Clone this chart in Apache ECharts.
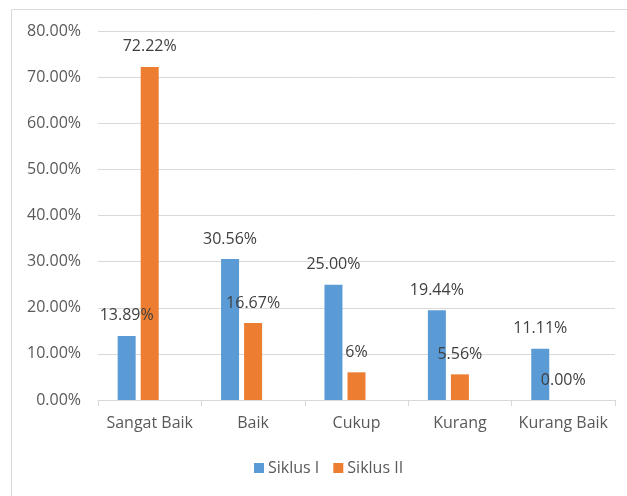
<!DOCTYPE html>
<html>
<head>
<meta charset="utf-8">
<script src="https://cdn.jsdelivr.net/npm/echarts@6/dist/echarts.min.js"></script>
<style>
  html, body { margin: 0; padding: 0; background: #ffffff; }
  #chart { width: 627px; height: 496px; }
</style>
</head>
<body>
<div id="chart"></div>
<script>
// Categories and percentages per cycle
const categories = ['Sangat Baik', 'Baik', 'Cukup', 'Kurang', 'Kurang Baik'];
const siklus1 = [13.89, 30.56, 25.00, 19.44, 11.11];
const siklus2 = [72.22, 16.67, 6, 5.56, 0.00];
const siklus1Labels = ['13.89%', '30.56%', '25.00%', '19.44%', '11.11%'];
const siklus2Labels = ['72.22%', '16.67%', '6%', '5.56%', '0.00%'];
const yTicks = { min: 0, max: 80, interval: 10 };

const FONT = 'Open Sans';
const chart = echarts.init(document.getElementById('chart'));

function barLabel(texts) {
  return {
    show: true,
    position: 'top',
    distance: 12,
    fontFamily: FONT,
    fontSize: 16,
    color: '#404040',
    formatter: p => texts[p.dataIndex]
  };
}

chart.setOption({
  animation: false,
  graphic: [{
    type: 'rect',
    left: 9, top: 7,
    shape: { width: 640, height: 487 },
    style: { fill: 'none', stroke: '#d9d9d9', lineWidth: 1 },
    silent: true
  }],
  grid: { left: 98, right: 12, top: 31, bottom: 96 },
  legend: {
    data: ['Siklus I', 'Siklus II'],
    bottom: 15,
    left: 249,
    itemWidth: 10,
    itemHeight: 10,
    itemGap: 14,
    icon: 'rect',
    textStyle: { fontFamily: FONT, fontSize: 16, color: '#595959', padding: [0, 0, 0, -1] }
  },
  xAxis: {
    type: 'category',
    data: categories,
    axisLine: { lineStyle: { color: '#d9d9d9' } },
    axisTick: { show: true, length: 6, lineStyle: { color: '#d9d9d9' } },
    axisLabel: { fontFamily: FONT, fontSize: 16, color: '#595959', margin: 15, interval: 0 }
  },
  yAxis: {
    type: 'value',
    min: yTicks.min,
    max: yTicks.max,
    interval: yTicks.interval,
    axisLine: { show: false },
    axisTick: { show: false },
    splitLine: { lineStyle: { color: '#d9d9d9' } },
    axisLabel: {
      fontFamily: FONT, fontSize: 16, color: '#595959', margin: 17,
      formatter: v => v.toFixed(2) + '%'
    }
  },
  series: [
    {
      name: 'Siklus I', type: 'bar', data: siklus1,
      barWidth: 18, barGap: '28%',
      itemStyle: { color: '#5b9bd5' },
      label: barLabel(siklus1Labels)
    },
    {
      name: 'Siklus II', type: 'bar', data: siklus2,
      barWidth: 18, barGap: '28%',
      itemStyle: { color: '#ed7d31' },
      label: barLabel(siklus2Labels)
    },
    {
      // empty third slot keeps the pair shifted left within each category
      name: 'slot', type: 'bar', data: categories.map(() => null),
      barWidth: 18, barGap: '28%',
      itemStyle: { color: 'transparent' }
    }
  ]
});
</script>
</body>
</html>
